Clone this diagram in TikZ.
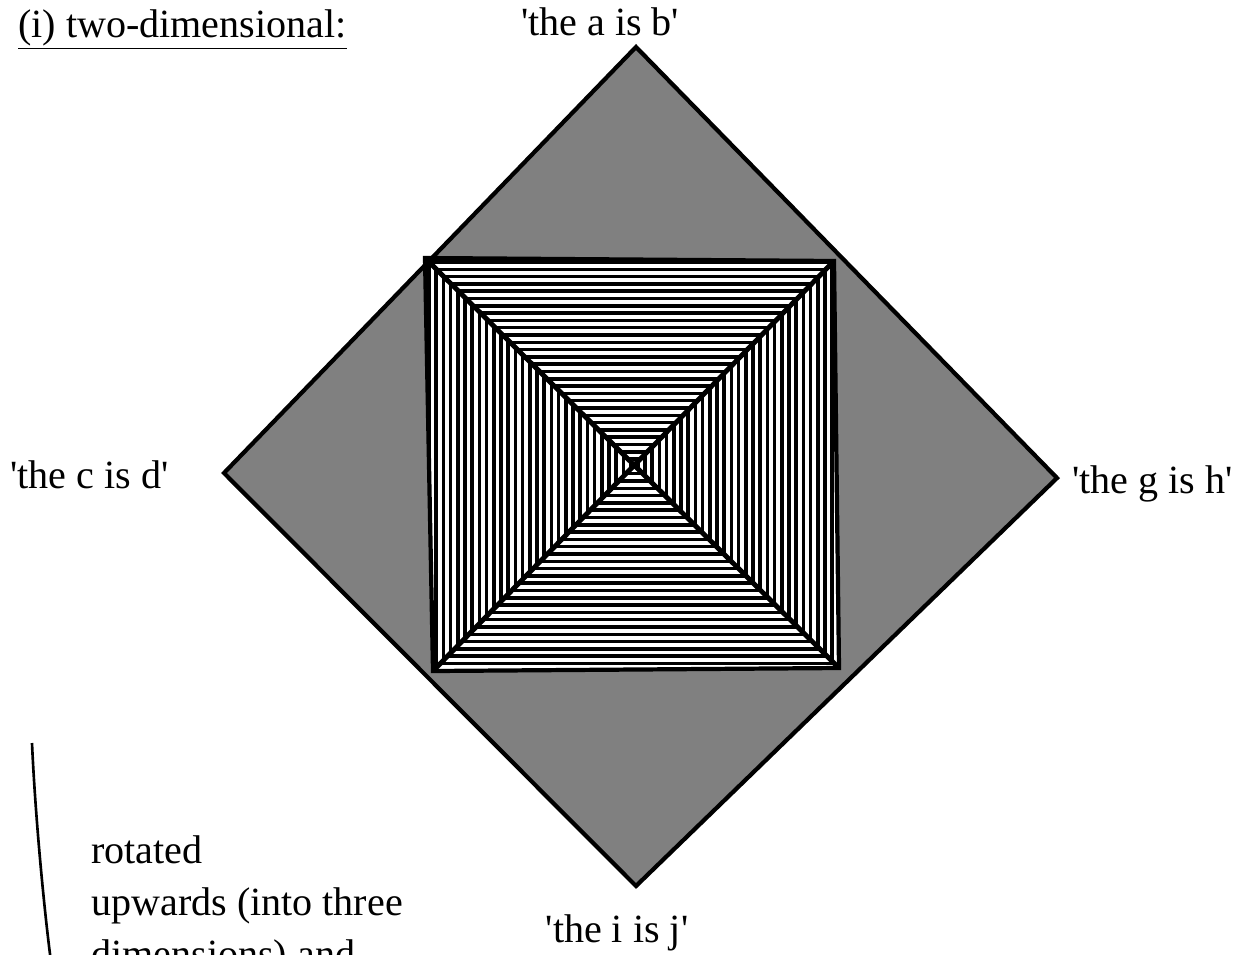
\documentclass[tikz,border=0pt]{standalone}
\usepackage{fontspec}
\setmainfont{Liberation Serif}
\newfontfamily\labelfont{Liberation Serif}
\usetikzlibrary{calc}

\tikzset{
  label text/.style={font=\labelfont\fontsize{22.8}{29.6}\selectfont, inner sep=0pt},
  outline/.style={line width=2.4pt, line join=miter},
  diag/.style={line width=2.8pt},
  hatch/.style={line width=2.0pt},
  shade area/.style={fill=black!50}
}

\begin{document}
\begin{tikzpicture}[x=0.02cm, y=-0.02cm]
  \useasboundingbox (0,0) rectangle (1246,954);
  \clip (0,0) rectangle (1246,954);

  % outer diamond corners
  \coordinate (top) at (636,47);
  \coordinate (left) at (224,473);
  \coordinate (bot) at (636,886);
  \coordinate (right) at (1057,478);
  % inner square
  \coordinate (tl) at (425,258);
  \coordinate (tr) at (834,261);
  \coordinate (br) at (839,668);
  \coordinate (bl) at (433,671);
  \coordinate (c) at (635,463);

  \filldraw[shade area, outline] (top) -- (right) -- (bot) -- (left) -- cycle;
  \fill[white] (tl) -- (tr) -- (br) -- (bl) -- cycle;

  % horizontal hatching, top and bottom
  \begin{scope}
    \clip (tl) -- (tr) -- (c) -- cycle (bl) -- (br) -- (c) -- cycle;
    \foreach \k in {0,...,57}
      \draw[hatch] (410,262+\k*7.3) -- (860,262+\k*7.3);
  \end{scope}
  % vertical hatching, left and right
  \begin{scope}
    \clip (tl) -- (bl) -- (c) -- cycle (tr) -- (br) -- (c) -- cycle;
    \foreach \k in {0,...,57}
      \draw[hatch] (429+\k*7.2,250) -- (429+\k*7.2,680);
  \end{scope}

  \draw[outline] (tl) -- (tr) -- (br) -- (bl) -- cycle;
  \draw[diag] (tl) -- (br);
  \draw[diag] (tr) -- (bl);

  % labels
  \node[label text, anchor=base west] (title) at (18,37) {\underline{(i) two-dimensional:}};
  \node[label text, anchor=base] (ab) at (600,35) {'the a is b'};
  \node[label text, anchor=base west] (cd) at (10,488) {'the c is d'};
  \node[label text, anchor=base west] (gh) at (1072,493) {'the g is h'};
  \node[label text, anchor=base] (ij) at (617,942) {'the i is j'};

  \coordinate (arcstart) at (32,743);
  \coordinate (arcend) at (51,962);
  \draw[line width=1.5pt] (arcstart) .. controls (35,810) and (43,900) .. (arcend);
  \node[label text, anchor=base west, align=left] (rot) at (91,967)
    {rotated\\upwards (into three\\dimensions) and};
\end{tikzpicture}
\end{document}
